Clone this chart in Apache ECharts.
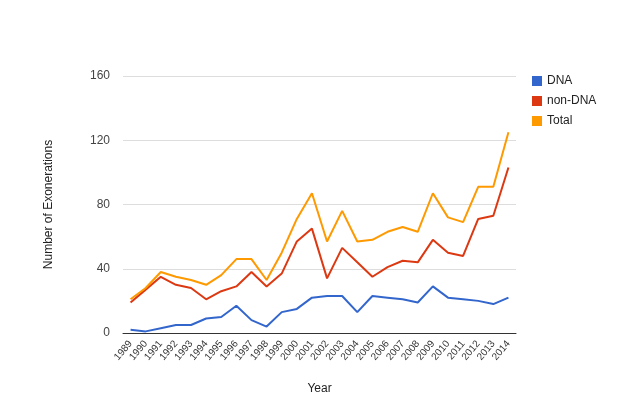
<!DOCTYPE html>
<html><head><meta charset="utf-8">
<script src="https://cdn.jsdelivr.net/npm/echarts@6/dist/echarts.min.js"></script>
<style>html,body{margin:0;padding:0;background:#fff}#c{width:636px;height:408px}</style>
</head><body><div id="c"></div>
<script>
var years = ['1989','1990','1991','1992','1993','1994','1995','1996','1997','1998','1999','2000','2001','2002','2003','2004','2005','2006','2007','2008','2009','2010','2011','2012','2013','2014'];
var dna    = [2,1,3,5,5,9,10,17,8,4,13,15,22,23,23,13,23,22,21,19,29,22,21,20,18,22];
var nonDna = [19,27,35,30,28,21,26,29,38,29,37,57,65,34,53,44,35,41,45,44,58,50,48,71,73,103];
var total  = [21,28,38,35,33,30,36,46,46,33,50,71,87,57,76,57,58,63,66,63,87,72,69,91,91,125];
var yTicks = [0,40,80,120,160];

var font = 'Arial, "Liberation Sans", sans-serif';
var chart = echarts.init(document.getElementById('c'), null, {renderer:'canvas'});
function s(name, data, color){
  return {name:name, type:'line', data:data, symbol:'none', smooth:false,
    lineStyle:{width:2, color:color}, itemStyle:{color:color}};
}
chart.setOption({
  animation:false,
  backgroundColor:'#fff',
  textStyle:{fontFamily:font},
  grid:{left:123, right:120, top:76, bottom:75, containLabel:false},
  legend:{
    orient:'vertical', left:527, top:70, itemWidth:10, itemHeight:10, itemGap:8,
    icon:'rect',
    textStyle:{fontSize:12, color:'#222', fontFamily:font},
    data:['DNA','non-DNA','Total']
  },
  xAxis:{
    type:'category', data:years, boundaryGap:true,
    name:'Year', nameLocation:'middle', nameGap:50,
    nameTextStyle:{fontSize:12, color:'#222', fontFamily:font},
    axisLine:{lineStyle:{color:'#333', width:1}},
    axisTick:{show:false},
    axisLabel:{rotate:50, fontSize:10, color:'#333', margin:9, interval:0, fontFamily:font}
  },
  yAxis:{
    type:'value', min:yTicks[0], max:yTicks[yTicks.length-1], interval:40,
    name:'Number of Exonerations', nameLocation:'middle', nameGap:68,
    nameTextStyle:{fontSize:12, color:'#222', fontFamily:font},
    axisLine:{show:false}, axisTick:{show:false},
    axisLabel:{fontSize:12, color:'#444', margin:13, fontFamily:font},
    splitLine:{lineStyle:{color:'#ddd', width:1}}
  },
  series:[ s('DNA', dna, '#3366cc'), s('non-DNA', nonDna, '#dc3912'), s('Total', total, '#ff9900') ]
});
</script></body></html>
